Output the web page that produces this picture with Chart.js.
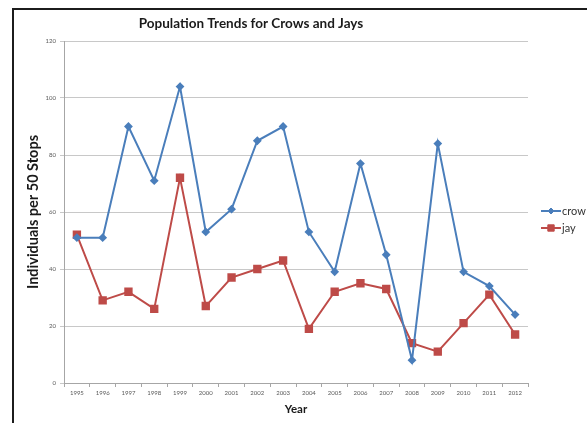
<!DOCTYPE html>
<html>
<head>
<meta charset="utf-8">
<script src="https://cdn.jsdelivr.net/npm/chart.js@4.4.1/dist/chart.umd.min.js"></script>
<style>
  html, body { margin: 0; padding: 0; background: #ffffff; }
  #wrap { position: relative; width: 587px; height: 423px; overflow: hidden; }
  #frame { position: absolute; left: 12px; top: 8px; width: 600px; height: 440px;
           border-left: 2px solid #1c1c1c; border-top: 2px solid #1c1c1c; }
  #c { position: absolute; left: 0; top: 0; }
</style>
</head>
<body>
<div id="wrap">
  <div id="frame"></div>
  <canvas id="c" width="587" height="423"></canvas>
</div>
<script>
// Birds counted per 50 stops, by survey year
const years = ['1995','1996','1997','1998','1999','2000','2001','2002','2003',
               '2004','2005','2006','2007','2008','2009','2010','2011','2012'];
const crow = [51, 51, 90, 71, 104, 53, 61, 85, 90, 53, 39, 77, 45, 8, 84, 39, 34, 24];
const jay  = [52, 29, 32, 26, 72, 27, 37, 40, 43, 19, 32, 35, 33, 14, 11, 21, 31, 17];
const yTicks = [0, 20, 40, 60, 80, 100, 120];
const chartTitle = 'Population Trends for Crows and Jays';

const BLUE = '#4A7EBB';
const RED = '#BE4B48';
const FONT = 'Lato, "Open Sans", sans-serif';

// Title centred over the frame rather than over the plot
const frameTitle = {
  id: 'frameTitle',
  afterDraw(chart) {
    const { ctx, chartArea } = chart;
    ctx.save();
    ctx.fillStyle = '#1a1a1a';
    ctx.font = 'bold 13.5px ' + FONT;
    ctx.textAlign = 'center';
    ctx.textBaseline = 'middle';
    ctx.fillText(chartTitle, chartArea.left + 187, chartArea.top - 17);
    ctx.restore();
  }
};

// Legend drawn as line + marker samples to the right of the plot
const sideLegend = {
  id: 'sideLegend',
  afterDraw(chart) {
    const { ctx, chartArea } = chart;
    const x0 = chartArea.right + 13;
    let y = chartArea.top + 170;
    chart.data.datasets.forEach(ds => {
      ctx.save();
      ctx.strokeStyle = ds.borderColor;
      ctx.lineWidth = 2;
      ctx.beginPath();
      ctx.moveTo(x0, y);
      ctx.lineTo(x0 + 20, y);
      ctx.stroke();
      ctx.fillStyle = ds.pointBackgroundColor;
      ctx.strokeStyle = ds.pointBorderColor;
      ctx.lineWidth = 1;
      Chart.helpers.drawPoint(ctx, {
        pointStyle: ds.pointStyle, radius: ds.pointRadius, borderWidth: 1, rotation: 0
      }, x0 + 10, y);
      ctx.fillStyle = '#333333';
      ctx.font = '11px ' + FONT;
      ctx.textBaseline = 'middle';
      ctx.textAlign = 'left';
      ctx.fillText(ds.label, x0 + 21, y);
      ctx.restore();
      y += 17;
    });
  }
};

new Chart(document.getElementById('c'), {
  type: 'line',
  data: {
    labels: years,
    datasets: [
      { label: 'crow', data: crow, borderColor: BLUE, backgroundColor: BLUE,
        pointBackgroundColor: BLUE, pointBorderColor: BLUE,
        pointStyle: 'rectRot', pointRadius: 3, borderWidth: 2, tension: 0 },
      { label: 'jay', data: jay, borderColor: RED, backgroundColor: RED,
        pointBackgroundColor: RED, pointBorderColor: RED,
        pointStyle: 'rect', pointRadius: 4.5, borderWidth: 2, tension: 0 }
    ]
  },
  options: {
    responsive: false,
    animation: false,
    layout: { padding: { left: 24, right: 59, top: 41, bottom: 6 } },
    plugins: {
      legend: { display: false },
      tooltip: { enabled: false },
      title: { display: false }
    },
    scales: {
      x: {
        type: 'category',
        offset: true,
        grid: { display: true, offset: true, drawOnChartArea: false, drawTicks: true,
                tickLength: 4, color: '#a6a6a6' },
        border: { display: true, color: '#a6a6a6', width: 1 },
        ticks: { color: '#595959', font: { family: FONT, size: 6 }, maxRotation: 0,
                 autoSkip: false, padding: 2 },
        title: { display: true, text: 'Year', color: '#1a1a1a',
                 font: { family: FONT, size: 11.5, weight: 'bold' }, padding: { top: 4, bottom: 1 } },
        afterFit(scale) { scale.height = 34; }
      },
      y: {
        min: 0, max: 120,
        afterBuildTicks(scale) { scale.ticks = yTicks.map(v => ({ value: v })); },
        grid: { color: '#c8c8c8', lineWidth: 1, drawTicks: true, tickLength: 4 },
        border: { display: true, color: '#a6a6a6', width: 1 },
        ticks: { color: '#595959', font: { family: FONT, size: 6 }, padding: 4 },
        title: { display: true, text: 'Individuals per 50 Stops', color: '#1a1a1a',
                 font: { family: FONT, size: 14.5, weight: 'bold' }, padding: { top: 1, bottom: 4 } },
        afterFit(scale) { scale.width = 40; }
      }
    }
  },
  plugins: [frameTitle, sideLegend]
});
</script>
</body>
</html>
